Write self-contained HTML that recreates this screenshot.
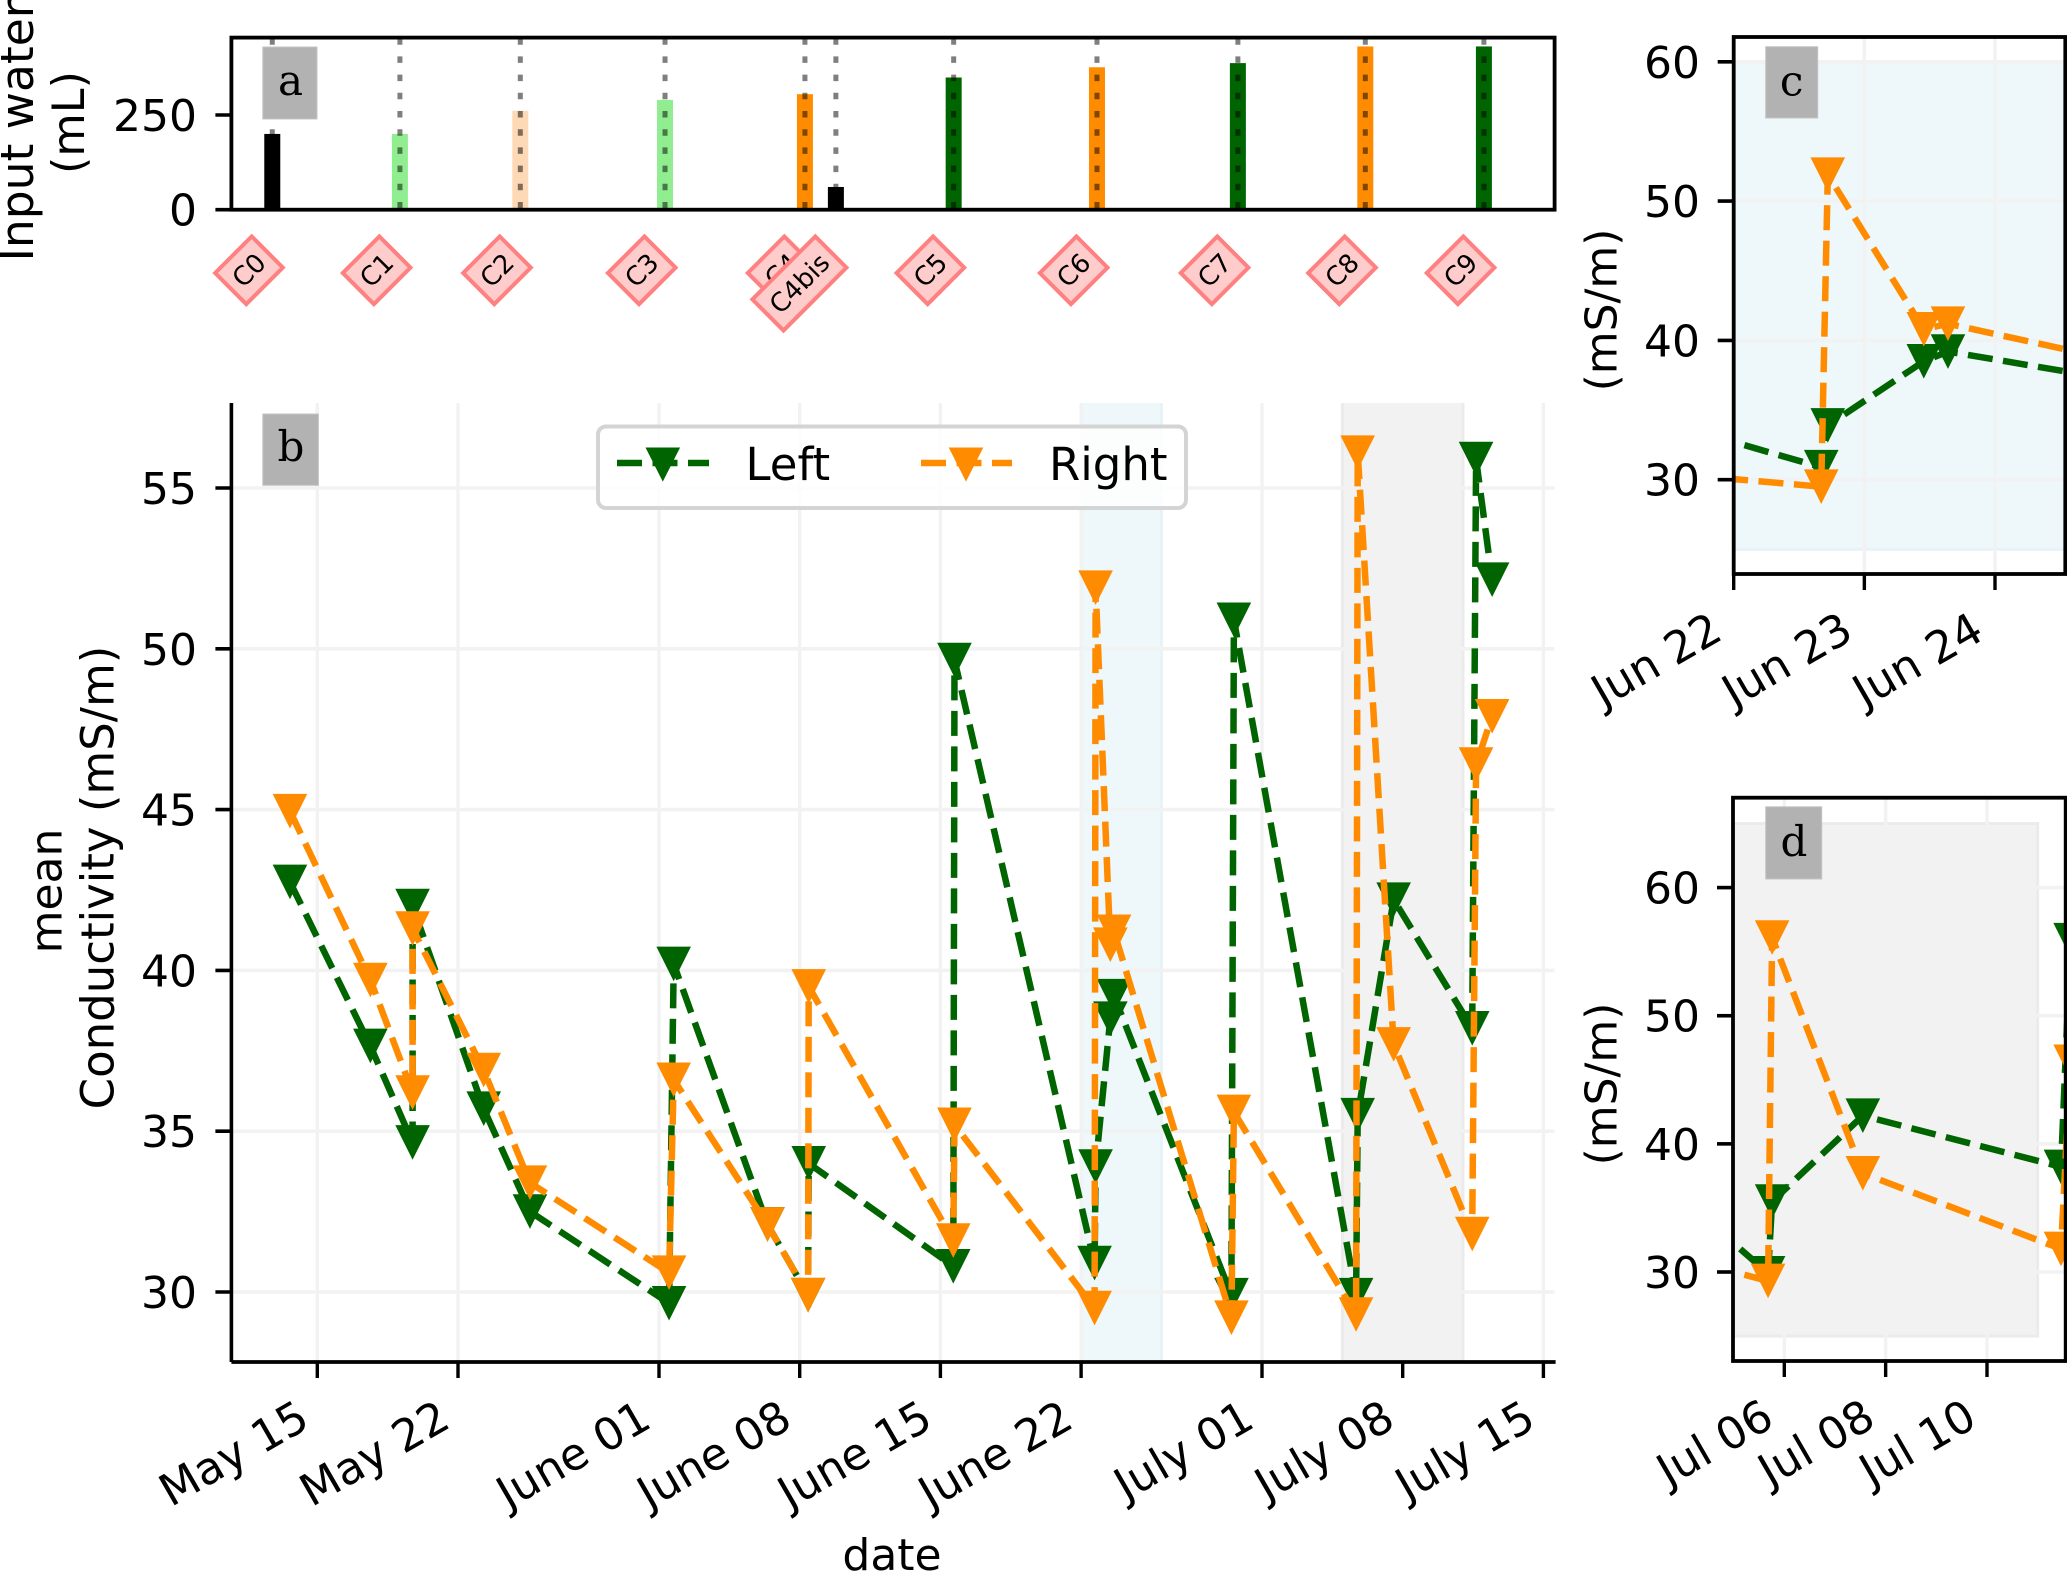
<!DOCTYPE html>
<html lang="en">
<head>
<meta charset="utf-8">
<title>Input water and mean conductivity</title>
<style>
html,body{margin:0;padding:0;background:#fff;}
svg{display:block;}
text{font-family:"DejaVu Sans","Liberation Sans",sans-serif;font-size:44px;fill:#000;}
.x-label{font-size:44.5px;}
.panel-letter{font-family:"DejaVu Serif","Liberation Serif",serif;font-size:42px;text-anchor:middle;}
.tag-text{font-size:26px;text-anchor:middle;}
</style>
</head>
<body>
<svg id="figure" xmlns="http://www.w3.org/2000/svg" width="2067" height="1572" viewBox="0 0 2067 1572">
  <defs>
    <clipPath id="clip-a"><rect x="231" y="37" width="1324" height="173"/></clipPath>
    <clipPath id="clip-b"><rect x="231" y="403" width="1324" height="959"/></clipPath>
    <clipPath id="clip-c"><rect x="1733.7" y="37" width="331.6" height="537"/></clipPath>
    <clipPath id="clip-d"><rect x="1733" y="797.7" width="332.7" height="563.3"/></clipPath>
  </defs>
  <rect x="0" y="0" width="2067" height="1572" fill="#fff"/>

  <g id="layer-a"></g>
  <g id="layer-b"></g>
  <g id="layer-c"></g>
  <g id="layer-d"></g>

  <text transform="translate(33,261.5) rotate(-90)" style="font-size:45.5px">Input water</text>
  <text transform="translate(84,122.5) rotate(-90)" text-anchor="middle" style="font-size:44.5px">(mL)</text>
  <text transform="translate(61.7,891) rotate(-90)" text-anchor="middle">mean</text>
  <text transform="translate(113.3,877.5) rotate(-90)" text-anchor="middle" style="font-size:45px">Conductivity (mS/m)</text>
  <text transform="translate(1616.5,310) rotate(-90)" text-anchor="middle">(mS/m)</text>
  <text transform="translate(1616.5,1084) rotate(-90)" text-anchor="middle">(mS/m)</text>
  <text x="892" y="1570" text-anchor="middle">date</text>

  <g>
    <rect x="262.8" y="47" width="54.2" height="72" fill="#b2b2b2" stroke="#c4c4c4" stroke-width="1"/>
    <text class="panel-letter" x="290.5" y="95">a</text>
  </g>
  <g>
    <rect x="262.8" y="414" width="55.6" height="71.3" fill="#b2b2b2" stroke="#c4c4c4" stroke-width="1"/>
    <text class="panel-letter" x="291" y="461">b</text>
  </g>
  <g>
    <rect x="1765.7" y="46.7" width="52" height="71.3" fill="#b2b2b2" stroke="#c4c4c4" stroke-width="1"/>
    <text class="panel-letter" x="1791.7" y="95.5">c</text>
  </g>
  <g>
    <rect x="1765.7" y="806.8" width="56" height="72.2" fill="#b2b2b2" stroke="#c4c4c4" stroke-width="1"/>
    <text class="panel-letter" x="1794" y="855.8">d</text>
  </g>

  <g>
    <rect x="598" y="426.5" width="588" height="81.5" rx="8" ry="8" fill="#fff" fill-opacity="0.8" stroke="#d4d4d4" stroke-width="4"/>
    <g>
      <line x1="617" y1="463" x2="709" y2="463" stroke="#006400" stroke-width="6.5" stroke-dasharray="25 10.5"/>
      <polygon points="645.5,447.5 680.1,447.5 662.8,481.6" fill="#006400"/>
      <text x="745.5" y="480" style="font-size:45px">Left</text>
    </g>
    <g>
      <line x1="921" y1="463" x2="1012" y2="463" stroke="#ff8c00" stroke-width="6.5" stroke-dasharray="25 10.5"/>
      <polygon points="948.7,447.5 983.3,447.5 966,481.6" fill="#ff8c00"/>
      <text x="1049" y="480" style="font-size:45px">Right</text>
    </g>
  </g>
</svg>

<script>
// Dates are expressed as days after May 15.
const leftDays = [-1.36, 2.64, 4.74, 4.74, 8.28, 10.58, 17.5, 17.73, 22.4, 24.42, 24.45, 31.64, 31.7, 38.67, 38.72, 39.455, 39.64, 45.48, 45.6, 51.68, 51.76, 53.55, 57.46, 57.65, 58.45];
const leftValues = [42.75, 37.65, 34.65, 42.0, 35.7, 32.5, 29.65, 40.2, 32.1, 29.9, 34.0, 30.8, 49.65, 30.9, 33.9, 38.5, 39.2, 29.9, 50.9, 29.9, 35.5, 42.2, 38.2, 55.9, 52.15];
const rightDays = [-1.36, 2.64, 4.74, 4.74, 8.28, 10.58, 17.5, 17.73, 22.4, 24.42, 24.45, 31.64, 31.7, 38.67, 38.72, 39.455, 39.64, 45.48, 45.6, 51.68, 51.76, 53.55, 57.46, 57.65, 58.45];
const rightValues = [44.95, 39.7, 36.2, 41.3, 36.9, 33.4, 30.6, 36.6, 32.1, 29.9, 39.5, 31.6, 35.2, 29.5, 51.9, 40.8, 41.2, 29.2, 35.6, 29.3, 56.1, 37.7, 31.8, 46.4, 47.9];

const campaignLabels = ['C0', 'C1', 'C2', 'C3', 'C4', 'C4bis', 'C5', 'C6', 'C7', 'C8', 'C9'];
const campaignDays = [-2.24, 4.11, 10.1, 17.3, 24.26, 25.8, 31.66, 38.79, 45.8, 52.14, 58.04];
const campaignVolumes = [200, 200, 261, 290, 305, 60, 349, 376, 387, 431, 431];
const campaignColors = ['#000000', '#90ee90', '#fdd9b5', '#90ee90', '#ff8c00', '#000000', '#006400', '#ff8c00', '#006400', '#ff8c00', '#006400'];

const waterTickValues = [0, 250];
const waterTickLabels = ['0', '250'];

const mainYTickValues = [30, 35, 40, 45, 50, 55];
const mainYTickLabels = ['30', '35', '40', '45', '50', '55'];
const mainXTickDays = [0, 7, 17, 24, 31, 38, 47, 54, 61];
const mainXTickLabels = ['May 15', 'May 22', 'June 01', 'June 08', 'June 15', 'June 22', 'July 01', 'July 08', 'July 15'];

const insetYTickValues = [30, 40, 50, 60];
const insetYTickLabels = ['30', '40', '50', '60'];
const juneXTickDays = [38, 39, 40];
const juneXTickLabels = ['Jun 22', 'Jun 23', 'Jun 24'];
const julyXTickDays = [52, 54, 56];
const julyXTickLabels = ['Jul 06', 'Jul 08', 'Jul 10'];

const juneSpanDays = [38, 42];
const julySpanDays = [51, 57];
const juneSpanValues = [25, 60];
const julySpanValues = [25, 65];

const SVG_NS = 'http://www.w3.org/2000/svg';
const GRID_COLOR = '#f2f2f2';
const LEFT_COLOR = '#006400';
const RIGHT_COLOR = '#ff8c00';
const JUNE_FILL = '#eef7fa';
const JUNE_EDGE = '#e8f3f8';
const JULY_FILL = '#f2f2f2';
const JULY_EDGE = '#ebebeb';

function linear(d0, d1, r0, r1) {
  return function (v) { return r0 + (v - d0) * (r1 - r0) / (d1 - d0); };
}
function create(parent, tag, attrs, content) {
  const el = document.createElementNS(SVG_NS, tag);
  Object.keys(attrs).forEach(function (k) { el.setAttribute(k, attrs[k]); });
  if (content !== undefined) el.textContent = content;
  parent.appendChild(el);
  return el;
}

function drawYGrid(layer, box, yScale, values) {
  values.forEach(function (v) {
    const y = yScale(v);
    const grid = create(layer, 'line', { x1: box.left, x2: box.right, y1: y, y2: y, stroke: GRID_COLOR, 'stroke-width': 3.6 });
    
    
  });
}

function drawYAxis(layer, box, yScale, values, labels, labelRight) {
  values.forEach(function (v, i) {
    const y = yScale(v);
    const tick = create(layer, 'line', { x1: box.left - 16, x2: box.left, y1: y, y2: y, stroke: '#000', 'stroke-width': 3.6 });
    
    
    const label = create(layer, 'text', { x: labelRight, y: y + 16, 'text-anchor': 'end' }, labels[i]);
    
    
  });
}

function drawXGrid(layer, box, xScale, days) {
  days.forEach(function (d) {
    const x = xScale(d);
    const grid = create(layer, 'line', { x1: x, x2: x, y1: box.top, y2: box.bottom, stroke: GRID_COLOR, 'stroke-width': 3.4 });
    
    
  });
}

function drawXTicks(layer, box, xScale, days, labels, endDx, endY) {
  days.forEach(function (d, i) {
    const x = xScale(d);
    const tick = create(layer, 'line', { x1: x, x2: x, y1: box.bottom, y2: box.bottom + 16, stroke: '#000', 'stroke-width': 3.4 });
    
    
    const label = create(layer, 'text', { class: 'x-label', transform: 'translate(' + (x + endDx) + ',' + endY + ') rotate(-30)', 'text-anchor': 'end' }, labels[i]);
    
    
  });
}

function drawSpan(layer, xScale, yScale, days, values, fill, edge, name) {
  const x0 = xScale(days[0]), x1 = xScale(days[1]);
  const y0 = yScale(values[1]), y1 = yScale(values[0]);
  const span = create(layer, 'rect', { x: x0, y: y0, width: x1 - x0, height: y1 - y0, fill: fill, stroke: edge, 'stroke-width': 3 });
  
  
}

function drawSeries(layer, xScale, yScale, days, values, color, name) {
  const pts = days.map(function (d, i) { return xScale(d).toFixed(1) + ',' + yScale(values[i]).toFixed(1); }).join(' ');
  const line = create(layer, 'polyline', { points: pts, fill: 'none', stroke: color, 'stroke-width': 6.5, 'stroke-dasharray': '25 10.5', 'stroke-linejoin': 'miter' });
  
  
  const h = 17.3;
  days.forEach(function (d, i) {
    const cx = xScale(d), cy = yScale(values[i]);
    const marker = create(layer, 'polygon', {
      points: (cx - h) + ',' + (cy - h) + ' ' + (cx + h) + ',' + (cy - h) + ' ' + cx + ',' + (cy + h),
      fill: color
    });
    
    
  });
}

function drawFrame(layer, box, sides) {
  if (sides.indexOf('box') >= 0) {
    const frame = create(layer, 'rect', { x: box.left, y: box.top, width: box.right - box.left, height: box.bottom - box.top, fill: 'none', stroke: '#000', 'stroke-width': 3.8 });
    
    
  } else {
    const leftSpine = create(layer, 'line', { x1: box.left, x2: box.left, y1: box.top, y2: box.bottom, stroke: '#000', 'stroke-width': 3.6 });
    
    
    const bottomSpine = create(layer, 'line', { x1: box.left, x2: box.right + 1, y1: box.bottom, y2: box.bottom, stroke: '#000', 'stroke-width': 3.8 });
    
    
  }
}

/* Shared date scale for panels a and b */
const xMain = linear(0, 61, 317.3, 1543.4);

/* Panel a: input water */
(function () {
  const layer = document.getElementById('layer-a');
  const box = { left: 231.4, right: 1554.6, top: 37.6, bottom: 209.7 };
  const yWater = linear(0, 250, 209.7, 115);
  const plot = create(layer, 'g', { 'clip-path': 'url(#clip-a)' });
  
  
  campaignDays.forEach(function (d, i) {
    const x = xMain(d), top = yWater(campaignVolumes[i]);
    const bar = create(plot, 'rect', { x: x - 8, y: top, width: 16, height: yWater(0) - top, fill: campaignColors[i] });
    
    
  });
  campaignDays.forEach(function (d, i) {
    const x = xMain(d);
    const guide = create(plot, 'line', { x1: x, x2: x, y1: 208.5, y2: 30, stroke: '#000', 'stroke-opacity': 0.5, 'stroke-width': 5, 'stroke-dasharray': '6.5 11.7' });
    
    
  });
  drawFrame(layer, box, 'box');
  drawYAxis(layer, box, yWater, waterTickValues, waterTickLabels, 197);
  campaignDays.forEach(function (d, i) {
    const tag = create(layer, 'g', {});
    
    
    const rect = create(tag, 'rect', { fill: '#ffcccc', stroke: '#ff8080', 'stroke-width': 4 });
    const label = create(tag, 'text', { class: 'tag-text', y: 9 }, campaignLabels[i]);
    const w = label.getComputedTextLength() + 21;
    rect.setAttribute('x', -w / 2 + 2);
    rect.setAttribute('y', -22);
    rect.setAttribute('width', w - 4);
    rect.setAttribute('height', 44);
    const off = w / 2 * Math.SQRT1_2;
    tag.setAttribute('transform', 'translate(' + (xMain(d) - 3.6 - off) + ',' + (250.6 + off) + ') rotate(-45)');
  });
})();

/* Panel b: main conductivity series */
(function () {
  const layer = document.getElementById('layer-b');
  const box = { left: 231.4, right: 1554.6, top: 403, bottom: 1362 };
  const yMain = linear(30, 55, 1292, 488);
  const spans = create(layer, 'g', { 'clip-path': 'url(#clip-b)' });
  
  
  drawSpan(spans, xMain, yMain, juneSpanDays, juneSpanValues, JUNE_FILL, JUNE_EDGE, 'june-highlight-span');
  drawSpan(spans, xMain, yMain, julySpanDays, julySpanValues, JULY_FILL, JULY_EDGE, 'july-highlight-span');
  drawXGrid(layer, box, xMain, mainXTickDays);
  drawYGrid(layer, box, yMain, mainYTickValues);
  drawYAxis(layer, box, yMain, mainYTickValues, mainYTickLabels, 197);
  const plot = create(layer, 'g', { 'clip-path': 'url(#clip-b)' });
  
  
  drawSeries(plot, xMain, yMain, leftDays, leftValues, LEFT_COLOR, 'left-series');
  drawSeries(plot, xMain, yMain, rightDays, rightValues, RIGHT_COLOR, 'right-series');
  drawFrame(layer, box, 'open');
  drawXTicks(layer, box, xMain, mainXTickDays, mainXTickLabels, -5.5, 1426);
})();

/* Panel c: June inset */
(function () {
  const layer = document.getElementById('layer-c');
  const box = { left: 1733.7, right: 2065.3, top: 37, bottom: 574 };
  const xJune = linear(38, 40, 1733.7, 1995);
  const yJune = linear(30, 60, 479.7, 61.8);
  const plot = create(layer, 'g', { 'clip-path': 'url(#clip-c)' });
  
  
  drawSpan(plot, xJune, yJune, juneSpanDays, juneSpanValues, JUNE_FILL, JUNE_EDGE, 'june-highlight-span');
  drawXGrid(plot, box, xJune, juneXTickDays);
  drawYGrid(plot, box, yJune, insetYTickValues);
  drawSeries(plot, xJune, yJune, leftDays, leftValues, LEFT_COLOR, 'left-series');
  drawSeries(plot, xJune, yJune, rightDays, rightValues, RIGHT_COLOR, 'right-series');
  drawFrame(layer, box, 'box');
  drawYAxis(layer, box, yJune, insetYTickValues, insetYTickLabels, 1700);
  drawXTicks(layer, box, xJune, juneXTickDays, juneXTickLabels, -9, 638);
})();

/* Panel d: July inset */
(function () {
  const layer = document.getElementById('layer-d');
  const box = { left: 1733, right: 2065.7, top: 797.7, bottom: 1361 };
  const xJuly = linear(52, 56, 1784.3, 1987);
  const yJuly = linear(30, 60, 1272, 887.6);
  const plot = create(layer, 'g', { 'clip-path': 'url(#clip-d)' });
  
  
  drawSpan(plot, xJuly, yJuly, julySpanDays, julySpanValues, JULY_FILL, JULY_EDGE, 'july-highlight-span');
  drawXGrid(plot, box, xJuly, julyXTickDays);
  drawYGrid(plot, box, yJuly, insetYTickValues);
  drawSeries(plot, xJuly, yJuly, leftDays, leftValues, LEFT_COLOR, 'left-series');
  drawSeries(plot, xJuly, yJuly, rightDays, rightValues, RIGHT_COLOR, 'right-series');
  drawFrame(layer, box, 'box');
  drawYAxis(layer, box, yJuly, insetYTickValues, insetYTickLabels, 1700);
  drawXTicks(layer, box, xJuly, julyXTickDays, julyXTickLabels, -8, 1425);
})();
</script>
</body>
</html>
